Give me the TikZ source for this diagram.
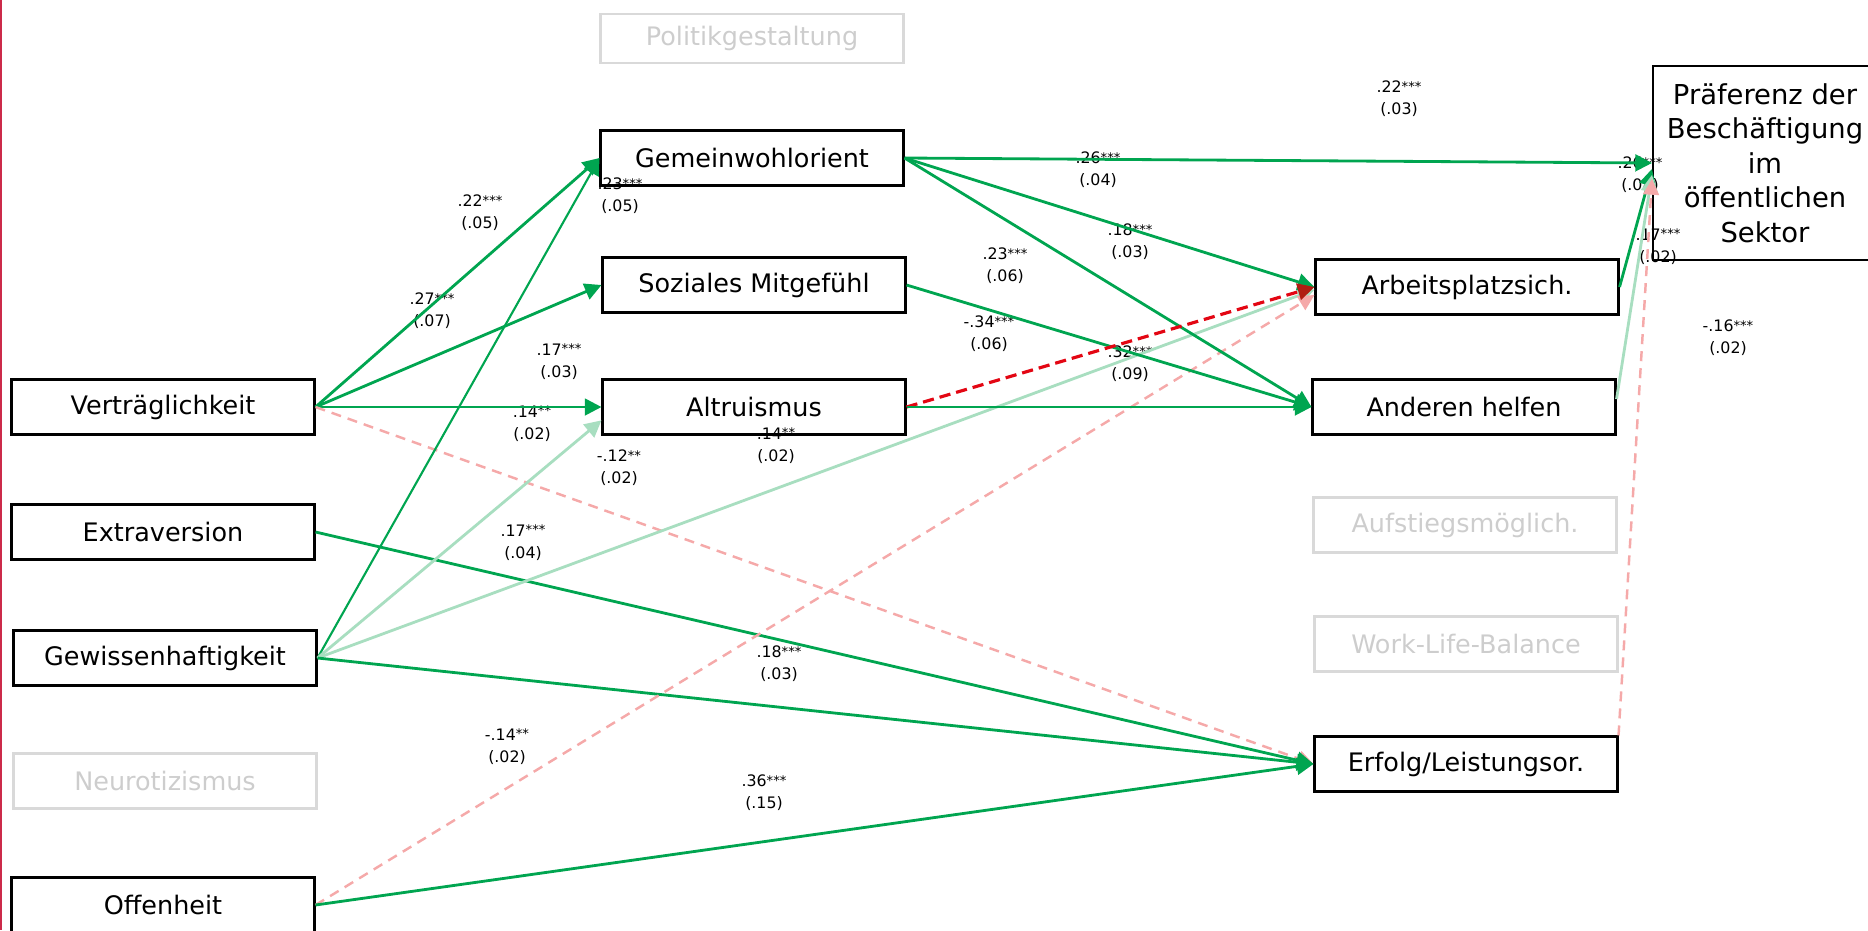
\documentclass[tikz,border=0pt]{standalone}
\usepackage{fontspec}
\setsansfont{DejaVu Sans}
\usetikzlibrary{arrows.meta}
\definecolor{PathGreen}{HTML}{00A550}
\definecolor{PathGreenLight}{HTML}{A8DEC0}
\definecolor{PathRed}{HTML}{E30613}
\definecolor{RedTip}{HTML}{B01E12}
\definecolor{PathPink}{HTML}{F5A9A9}
\definecolor{GhostLine}{HTML}{D9D9D9}
\definecolor{GhostText}{HTML}{CDCDCD}
\definecolor{BorderRed}{HTML}{CC2A4A}
\newcommand{\varfont}{\sffamily\fontsize{14.5pt}{16pt}\selectfont}
\newcommand{\coeffont}{\sffamily\fontsize{9pt}{12.6pt}\selectfont}
\newcommand{\sig}[1]{\raisebox{1pt}{\fontsize{7.5pt}{7.5pt}\selectfont #1}}

\begin{document}
\begin{tikzpicture}[
  x=0.02cm, y=-0.02cm,
  varbox/.style={draw=black, line width=1.2pt, minimum width=6.06cm, minimum height=1.1cm, inner sep=0pt, align=center, font=\varfont},
  varghost/.style={varbox, draw=GhostLine, text=GhostText},
  coeff/.style={align=center, inner sep=0pt, font=\coeffont},
  effpos/.style={-{Triangle[length=9.5pt,width=9.5pt]}, line width=1.6pt, PathGreen},
  effweak/.style={effpos, PathGreenLight},
  effneg/.style={-{Triangle[length=9.5pt,width=9.5pt,color=RedTip]}, line width=1.8pt, PathRed, dash pattern=on 6.4pt off 3.4pt},
  effnegweak/.style={-{Triangle[length=9pt,width=9pt]}, line width=1.4pt, PathPink, dash pattern=on 5.7pt off 4pt}
]
\useasboundingbox (0,0) rectangle (1868,930);
\draw[BorderRed, line width=1.2pt] (1,0) -- (1,930);

% Persoenlichkeit
\node[varbox] (vertr) at (163,407) {Verträglichkeit};
\node[varbox] (extra) at (163,532) {Extraversion};
\node[varbox] (gewiss) at (165,658) {Gewissenhaftigkeit};
\node[varghost] (neuro) at (165,781) {Neurotizismus};
\node[varbox] (offen) at (163,905) {Offenheit};
% PSM
\node[varghost, minimum height=0.98cm] (politik) at (752,38.5) {Politikgestaltung};
\node[varbox] (gemein) at (752,158) {Gemeinwohlorient};
\node[varbox] (sozial) at (754,285) {Soziales Mitgefühl};
\node[varbox] (altru) at (754,407) {Altruismus};
% Arbeitswerte
\node[varbox] (arbeit) at (1467,287) {Arbeitsplatzsich.};
\node[varbox] (anderen) at (1464,407) {Anderen helfen};
\node[varghost] (aufstieg) at (1465,525) {Aufstiegsmöglich.};
\node[varghost] (wlb) at (1466,644) {Work-Life-Balance};
\node[varbox] (erfolg) at (1466,764) {Erfolg/Leistungsor.};
\node[varbox, minimum width=4.48cm, minimum height=3.88cm, font=\sffamily\fontsize{15.6pt}{19.6pt}\selectfont] (praef) at (1765,163) {Präferenz der\\Beschäftigung\\im\\öffentlichen\\Sektor};

% Koeffizienten
\node[coeff] (c1) at (480,213) {.22\sig{***}\\(.05)};
\node[coeff] (c2) at (620,196) {.23\sig{***}\\(.05)};
\node[coeff] (c3) at (432,311) {.27\sig{***}\\(.07)};
\node[coeff] (c4) at (559,362) {.17\sig{***}\\(.03)};
\node[coeff] (c5) at (532,424) {.14\sig{**}\\(.02)};
\node[coeff] (c6) at (619,468) {-.12\sig{**}\\(.02)};
\node[coeff] (c7) at (776,446) {.14\sig{**}\\(.02)};
\node[coeff] (c8) at (523,543) {.17\sig{***}\\(.04)};
\node[coeff] (c9) at (1098,170) {.26\sig{***}\\(.04)};
\node[coeff] (c10) at (1130,242) {.18\sig{***}\\(.03)};
\node[coeff] (c11) at (1005,266) {.23\sig{***}\\(.06)};
\node[coeff] (c12) at (989,334) {-.34\sig{***}\\(.06)};
\node[coeff] (c13) at (1130,364) {.32\sig{***}\\(.09)};
\node[coeff] (c14) at (1399,99) {.22\sig{***}\\(.03)};
\node[coeff] (c15) at (1640,175) {.26\sig{***}\\(.08)};
\node[coeff] (c16) at (1658,247) {.17\sig{***}\\(.02)};
\node[coeff] (c17) at (1728,338) {-.16\sig{***}\\(.02)};
\node[coeff] (c18) at (779,664) {.18\sig{***}\\(.03)};
\node[coeff] (c19) at (507,747) {-.14\sig{**}\\(.02)};
\node[coeff] (c20) at (764,793) {.36\sig{***}\\(.15)};

% Pfade
\draw[effpos] (vertr.east) -- (gemein.west);
\draw[effpos] (vertr.east) -- (sozial.west);
\draw[effpos] (vertr.east) -- (altru.west);
\draw[effnegweak] (vertr.east) -- (erfolg.west);
\draw[effpos] (extra.east) -- (erfolg.west);
\draw[effpos, line width=1.2pt] (gewiss.east) -- (gemein.west);
\draw[effweak] (gewiss.east) -- (altru.185);
\draw[effweak] (gewiss.east) -- (arbeit.181);
\draw[effpos] (gewiss.east) -- (erfolg.west);
\draw[effnegweak] (offen.east) -- (arbeit.183);
\draw[effpos] (offen.east) -- (erfolg.west);
\draw[effpos] (gemein.east) -- (praef.west);
\draw[effpos] (gemein.east) -- (arbeit.west);
\draw[effpos] (gemein.east) -- (anderen.west);
\draw[effpos] (sozial.east) -- (anderen.west);
\draw[effneg] (altru.east) -- (arbeit.west);
\draw[effpos] (altru.east) -- (anderen.west);
\draw[effpos] (arbeit.east) -- (praef.183);
\draw[effweak] (anderen.3) -- (praef.186);
\draw[effnegweak] (erfolg.north east) -- (praef.188);
\end{tikzpicture}
\end{document}
